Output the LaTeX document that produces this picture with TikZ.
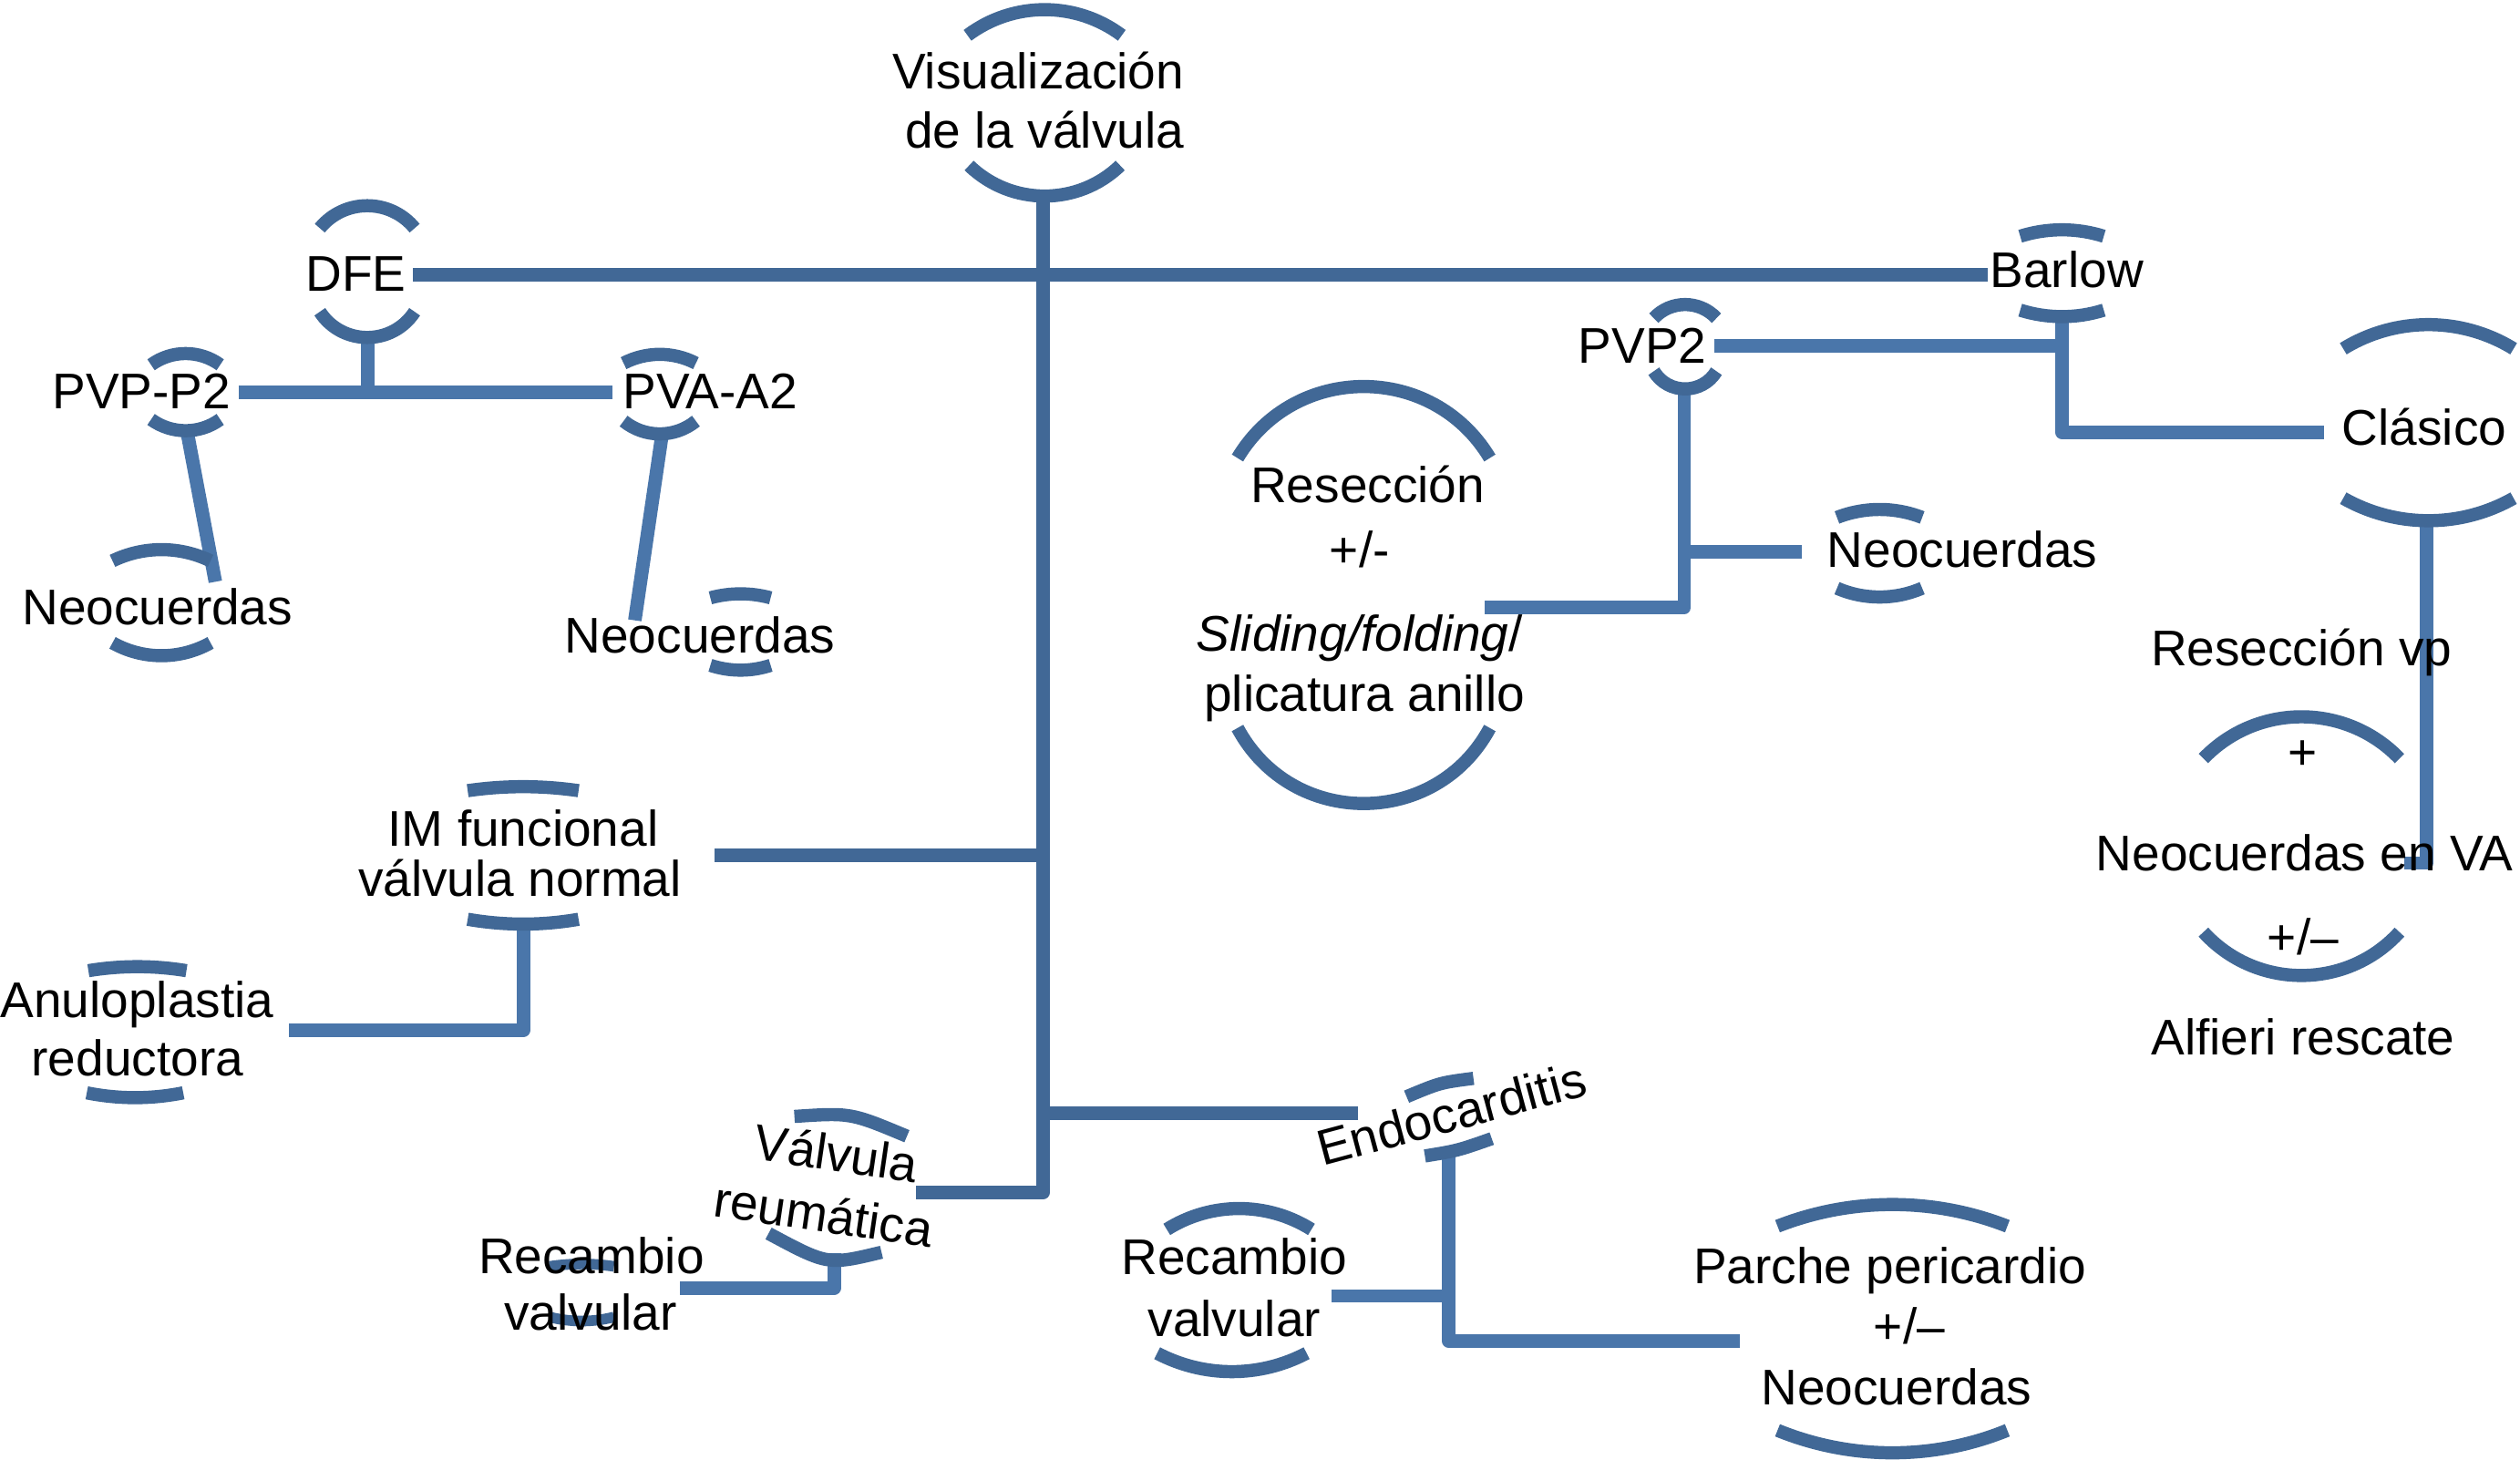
\documentclass[tikz,border=0pt]{standalone}
\usepackage{fontspec}
\setmainfont{Liberation Sans}
\definecolor{dk}{RGB}{65,104,150}
\definecolor{lt}{RGB}{74,118,170}
\tikzset{
  lbl/.style={anchor=base, inner sep=0pt, font=\fontsize{15.6}{18}\selectfont},
  conn/.style={line width=4.2pt, line join=round},
  arcline/.style={line width=4.1pt, dk},
}
% circular arc from (x1,yend) to (x2,yend) reaching ypeak at the middle
\newcommand\carc[5][]{%
  \pgfmathsetmacro\arcW{(#3-#2)/2}%
  \pgfmathsetmacro\arcS{#4-#5}%
  \pgfmathsetmacro\arcA{abs(\arcS)}%
  \pgfmathsetmacro\arcR{(\arcW*\arcW+\arcA*\arcA)/(2*\arcA)}%
  \pgfmathsetmacro\arcT{atan(\arcW/(\arcR-\arcA))}%
  \pgfmathsetmacro\arcK{4/3*tan(\arcT/2)*\arcR}%
  \pgfmathsetmacro\arcDX{\arcK*cos(\arcT)}%
  \pgfmathsetmacro\arcDY{\arcK*sin(\arcT)*\arcS/\arcA}%
  \draw[arcline,#1] (#2,#4) .. controls ({#2+\arcDX},{#4-\arcDY}) and ({#3-\arcDX},{#4-\arcDY}) .. (#3,#4);%
}
\begin{document}
\begin{tikzpicture}[x=0.5pt,y=-0.5pt]
\fill[white] (0,0) rectangle (1568,908);
\useasboundingbox (0,0) rectangle (1568,908);

% ---------- connector end points ----------
\coordinate (visB) at (649,122);
\coordinate (trunkE) at (649,742);
\coordinate (valR) at (570,742);
\coordinate (dfeR) at (257,171);
\coordinate (barL) at (1237,171);
\coordinate (imR) at (444.6,532);
\coordinate (trIM) at (649,532);
\coordinate (trEn) at (649,692.5);
\coordinate (endoL) at (845,692.5);

\coordinate (dfeB) at (229,210);
\coordinate (dfeJ) at (229,244);
\coordinate (pvpR) at (148.5,244);
\coordinate (pvaL) at (381,244);
\coordinate (pvpB) at (116.5,269);
\coordinate (neo1T) at (134,362);
\coordinate (pvaB) at (412,270);
\coordinate (neo2T) at (395,386);

\coordinate (barB) at (1283,197);
\coordinate (barC) at (1283,269);
\coordinate (clasL) at (1446,269);
\coordinate (pvp2R) at (1066.5,215);
\coordinate (barJ) at (1283,215);
\coordinate (pvp2B) at (1048,242);
\coordinate (pvp2C) at (1048,378);
\coordinate (resR) at (924,378);
\coordinate (pvp2J) at (1048,343.5);
\coordinate (neo3L) at (1121,343.5);
\coordinate (clasB) at (1510,324);
\coordinate (clasC) at (1510,537);
\coordinate (clasE) at (1496,537);

\coordinate (imB) at (325.6,575);
\coordinate (imC) at (325.6,641);
\coordinate (anR) at (180,641);
\coordinate (endoB) at (901.6,717);
\coordinate (endoC) at (901.6,834.6);
\coordinate (parL) at (1082.6,834.6);
\coordinate (endoJ) at (901.6,806.4);
\coordinate (rcR) at (828.3,806.4);
\coordinate (reuB) at (519,780);
\coordinate (reuC) at (519,801.4);
\coordinate (rc1R) at (423,801.4);

% ---------- connectors ----------
\draw[conn,dk] (visB) -- (trunkE) -- (valR);
\draw[conn,dk] (dfeR) -- (barL);
\draw[conn,dk] (imR) -- (trIM);
\draw[conn,dk] (trEn) -- (endoL);

\draw[conn,lt] (dfeB) -- (dfeJ);
\draw[conn,lt] (pvpR) -- (pvaL);
\draw[conn,lt] (pvpB) -- (neo1T);
\draw[conn,lt] (pvaB) -- (neo2T);
\draw[conn,lt] (barB) -- (barC) -- (clasL);
\draw[conn,lt] (pvp2R) -- (barJ);
\draw[conn,lt] (pvp2B) -- (pvp2C) -- (resR);
\draw[conn,lt] (pvp2J) -- (neo3L);
\draw[conn,lt] (clasB) -- (clasC) -- (clasE);
\draw[conn,lt] (imB) -- (imC) -- (anR);
\draw[conn,lt] (endoB) -- (endoC) -- (parL);
\draw[conn,lt] (endoJ) -- (rcR);
\draw[conn,lt] (reuB) -- (reuC) -- (rc1R);

% ---------- bracket arcs ----------
\carc{602}{698}{22}{6}      \carc{603}{697}{103}{122}
\carc{199}{258}{142}{128}   \carc{199}{258}{194}{210}
\carc{94}{137}{227}{220}    \carc{94}{137}{261}{268}
\carc{70}{131}{349}{342}    \carc{70}{131}{400}{408}
\carc{388}{433}{226}{220.5} \carc{388}{433}{262}{270}
\carc{442}{479.5}{372}{369.5} \carc{442}{479.5}{414}{417}
\carc{1257}{1309}{147}{143} \carc{1257}{1309}{193}{197}
\carc{1029}{1068}{198}{189.5} \carc{1029}{1068}{231}{242}
\carc{1143}{1196}{322}{317} \carc{1143}{1196}{366}{371.5}
\carc{770}{927}{285}{240.5} \carc{770}{927}{453}{500}
\carc{1458}{1564}{217}{202} \carc{1458}{1564}{310}{324}
\carc{1371}{1493}{472}{446} \carc{1371}{1493}{580}{607}
\carc{291}{360}{492}{489.5} \carc{291}{360}{572}{575}
\carc{55}{116}{604}{601.5}  \carc{54}{114}{680}{683}
\carc[line width=3.3pt]{342}{382}{788}{786.5} \carc[line width=3.3pt]{342}{382}{819.5}{822}
\carc{726}{816}{765}{752}   \carc{720}{813}{842}{853.5}
\carc{1106}{1249}{763}{749.5} \carc{1106}{1249}{890}{904}
% rotated ones
\draw[arcline] (494.3,694.7) .. controls (529.3,692.35) .. (564.3,707);
\draw[arcline] (478.2,767.5) .. controls (515.05,787.25) .. (548.5,779.2);
\draw[arcline] (875.2,682.4) .. controls (896,673.7) .. (916.8,671);
\draw[arcline] (886.6,719.3) .. controls (907.2,715.9) .. (928.2,708.5);

% ---------- texts ----------
\node[lbl] (vis1) at (646,55.5) {Visualización};
\node[lbl] (vis2) at (650,92) {de la válvula};
\node[lbl] (dfe) at (221.5,181) {DFE};
\node[lbl] (pvp) at (88,254.6) {PVP-P2};
\node[lbl] (pva) at (442,254.6) {PVA-A2};
\node[lbl] (neo1) at (98,389) {Neocuerdas};
\node[lbl] (neo2) at (435.5,406.5) {Neocuerdas};
\node[lbl] (barlow) at (1286,179) {Barlow};
\node[lbl] (pvp2) at (1022,226) {PVP2};
\node[lbl] (neo3) at (1221,353) {Neocuerdas};
\node[lbl] (res1) at (851,312.5) {Resección};
\node[lbl] (res2) at (846,353) {+/-};
\node[lbl] (res3) at (846,405) {\textit{Sliding/folding}/};
\node[lbl] (res4) at (849,442.7) {plicatura anillo};
\node[lbl] (clas) at (1508.5,277) {Clásico};
\node[lbl] (rv1) at (1432,414) {Resección vp};
\node[lbl] (rv2) at (1433,479) {+};
\node[lbl] (rv3) at (1434,542) {Neocuerdas en VA};
\node[lbl] (rv4) at (1433,594) {+/–};
\node[lbl] (rv5) at (1433,656.6) {Alfieri rescate};
\node[lbl] (im1) at (325.5,526.7) {IM funcional};
\node[lbl] (im2) at (323.5,558) {válvula normal};
\node[lbl] (an1) at (85.3,633.3) {Anuloplastia};
\node[lbl] (an2) at (85.5,669.6) {reductora};
\node[lbl,rotate=-8.3] (val1) at (518.9,728.7) {Válvula};
\node[lbl,rotate=-8.3] (val2) at (510.9,766.5) {reumática};
\node[lbl,rotate=15] (endo) at (906,703.5) {Endocarditis};
\node[lbl] (rc1) at (368,792.7) {Recambio};
\node[lbl] (rc2) at (367.5,827.5) {valvular};
\node[lbl] (rc3) at (768,793.3) {Recambio};
\node[lbl] (rc4) at (768,831.5) {valvular};
\node[lbl] (pa1) at (1176,798.5) {Parche pericardio};
\node[lbl] (pa2) at (1188,836) {+/–};
\node[lbl] (pa3) at (1180,874) {Neocuerdas};
\end{tikzpicture}
\end{document}
